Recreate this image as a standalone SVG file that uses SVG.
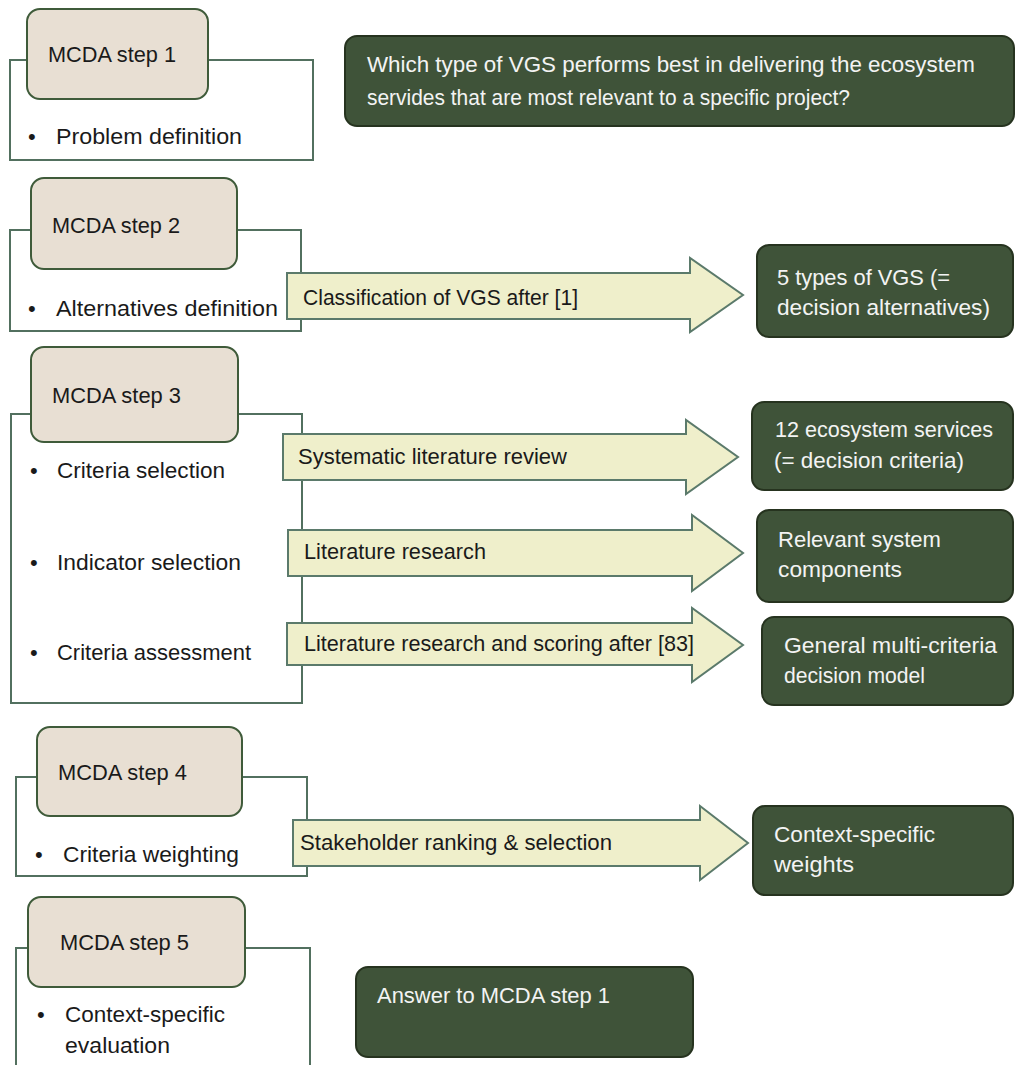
<svg xmlns="http://www.w3.org/2000/svg" width="1016" height="1065" viewBox="0 0 1016 1065">
<style>
text{font-family:"Liberation Sans",Arial,sans-serif;font-size:22px;fill:#1a1a1a}
.outer{fill:#fff;stroke:#52705F;stroke-width:2}
.step{fill:#E8DFD3;stroke:#3F5B3A;stroke-width:2}
.dark{fill:#3F5339;stroke:#26331f;stroke-width:2}
.dark-t{fill:#F3F3F3}
.arrow{fill:#EFEFCB;stroke:#5B7A6B;stroke-width:2;stroke-linejoin:miter}
</style>
<rect width="1016" height="1065" fill="#fff"/>

<g id="step1">
<rect class="outer" x="10" y="60" width="303" height="100"/>
<rect class="step" x="27" y="9" width="181" height="90" rx="13"/>
<text x="48" y="62" textLength="128" lengthAdjust="spacingAndGlyphs">MCDA step 1</text>
<text x="28" y="144">•</text><text x="56" y="144" textLength="186" lengthAdjust="spacingAndGlyphs">Problem definition</text>
</g>
<g id="question">
<rect class="dark" x="345" y="36" width="669" height="90" rx="12"/>
<text class="dark-t" x="367" y="72" textLength="608" lengthAdjust="spacingAndGlyphs">Which type of VGS performs best in delivering the ecosystem</text>
<text class="dark-t" x="367" y="105" textLength="483" lengthAdjust="spacingAndGlyphs">servides that are most relevant to a specific project?</text>
</g>

<g id="step2">
<rect class="outer" x="10" y="230" width="291" height="101"/>
<rect class="step" x="31" y="178" width="206" height="91" rx="13"/>
<text x="52" y="233" textLength="128" lengthAdjust="spacingAndGlyphs">MCDA step 2</text>
<text x="28" y="316">•</text><text x="56" y="316" textLength="222" lengthAdjust="spacingAndGlyphs">Alternatives definition</text>
</g>

<g id="step3">
<rect class="outer" x="11" y="414" width="291" height="289"/>
<rect class="step" x="31" y="347" width="207" height="95" rx="13"/>
<text x="52" y="403" textLength="129" lengthAdjust="spacingAndGlyphs">MCDA step 3</text>
<text x="30" y="478">•</text><text x="57" y="478" textLength="168" lengthAdjust="spacingAndGlyphs">Criteria selection</text>
<text x="30" y="570">•</text><text x="57" y="570" textLength="184" lengthAdjust="spacingAndGlyphs">Indicator selection</text>
<text x="30" y="660">•</text><text x="57" y="660" textLength="194" lengthAdjust="spacingAndGlyphs">Criteria assessment</text>
</g>

<g id="step4">
<rect class="outer" x="16" y="777" width="291" height="99"/>
<rect class="step" x="37" y="727" width="205" height="89" rx="13"/>
<text x="58" y="780" textLength="129" lengthAdjust="spacingAndGlyphs">MCDA step 4</text>
<text x="35" y="862">•</text><text x="63" y="862" textLength="176" lengthAdjust="spacingAndGlyphs">Criteria weighting</text>
</g>

<g id="step5">
<rect class="outer" x="16" y="948" width="294" height="130"/>
<rect class="step" x="28" y="897" width="217" height="90" rx="13"/>
<text x="60" y="950" textLength="129" lengthAdjust="spacingAndGlyphs">MCDA step 5</text>
<text x="37" y="1022">•</text><text x="65" y="1022" textLength="160" lengthAdjust="spacingAndGlyphs">Context-specific</text>
<text x="65" y="1053" textLength="105" lengthAdjust="spacingAndGlyphs">evaluation</text>
</g>

<g id="connectors">
<polygon class="arrow" points="287,273 690,273 690,258 743,295 690,332 690,319 287,319"/>
<polygon class="arrow" points="283,434 686,434 686,420 738,457 686,494 686,480 283,480"/>
<polygon class="arrow" points="288,530 692,530 692,515 743,553 692,591 692,576 288,576"/>
<polygon class="arrow" points="287,623 692,623 692,608 743,645 692,682 692,665 287,665"/>
<polygon class="arrow" points="293,820 700,820 700,806 748,843 700,880 700,866 293,866"/>
<text x="303" y="305" textLength="275" lengthAdjust="spacingAndGlyphs">Classification of VGS after [1]</text>
<text x="298" y="464" textLength="269" lengthAdjust="spacingAndGlyphs">Systematic literature review</text>
<text x="304" y="559" textLength="182" lengthAdjust="spacingAndGlyphs">Literature research</text>
<text x="304" y="651" textLength="390" lengthAdjust="spacingAndGlyphs">Literature research and scoring after [83]</text>
<text x="300" y="850" textLength="312" lengthAdjust="spacingAndGlyphs">Stakeholder ranking &amp; selection</text>
</g>

<g id="alternatives">
<rect class="dark" x="757" y="245" width="256" height="92" rx="12"/>
<text class="dark-t" x="777" y="285" textLength="173" lengthAdjust="spacingAndGlyphs">5 types of VGS (=</text>
<text class="dark-t" x="777" y="315" textLength="213" lengthAdjust="spacingAndGlyphs">decision alternatives)</text>
</g>
<g id="criteria">
<rect class="dark" x="752" y="402" width="261" height="88" rx="12"/>
<text class="dark-t" x="775" y="437" textLength="218" lengthAdjust="spacingAndGlyphs">12 ecosystem services</text>
<text class="dark-t" x="774" y="468" textLength="190" lengthAdjust="spacingAndGlyphs">(= decision criteria)</text>
</g>
<g id="components">
<rect class="dark" x="757" y="510" width="256" height="92" rx="12"/>
<text class="dark-t" x="778" y="547" textLength="163" lengthAdjust="spacingAndGlyphs">Relevant system</text>
<text class="dark-t" x="778" y="577" textLength="124" lengthAdjust="spacingAndGlyphs">components</text>
</g>
<g id="model">
<rect class="dark" x="762" y="617" width="251" height="88" rx="12"/>
<text class="dark-t" x="784" y="653" textLength="213" lengthAdjust="spacingAndGlyphs">General multi-criteria</text>
<text class="dark-t" x="784" y="683" textLength="141" lengthAdjust="spacingAndGlyphs">decision model</text>
</g>
<g id="weights">
<rect class="dark" x="753" y="806" width="260" height="89" rx="12"/>
<text class="dark-t" x="774" y="842" textLength="161" lengthAdjust="spacingAndGlyphs">Context-specific</text>
<text class="dark-t" x="774" y="872" textLength="80" lengthAdjust="spacingAndGlyphs">weights</text>
</g>
<g id="answer">
<rect class="dark" x="356" y="967" width="337" height="90" rx="12"/>
<text class="dark-t" x="377" y="1003" textLength="233" lengthAdjust="spacingAndGlyphs">Answer to MCDA step 1</text>
</g>
</svg>
